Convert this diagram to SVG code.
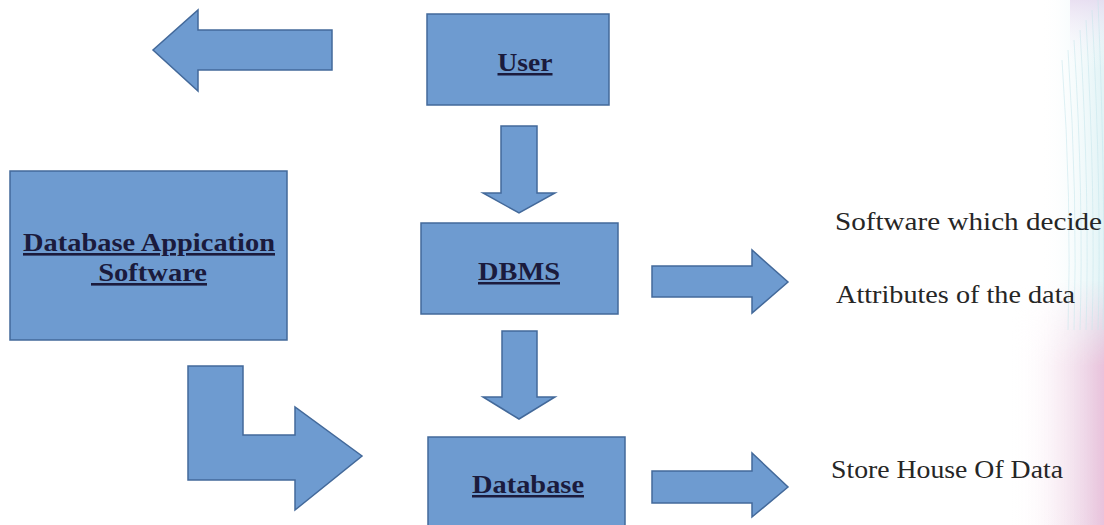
<svg xmlns="http://www.w3.org/2000/svg" width="1104" height="525" viewBox="0 0 1104 525">
  <defs>
    <style>
      .shape { fill: #6e9bd0; stroke: #43699a; stroke-width: 1.5; stroke-linejoin: miter; }
      .label { font-weight: bold; fill: #1b1b3d; text-decoration: underline; }
      .note { font-size: 26px; fill: #262626; }
    </style>
    <linearGradient id="edgeFade" x1="0" y1="0" x2="1" y2="0">
      <stop offset="0" stop-color="#ffffff" stop-opacity="0"/>
      <stop offset="1" stop-color="#d9f0f3" stop-opacity="0.8"/>
    </linearGradient>
    <linearGradient id="pinkFade" x1="0" y1="0" x2="1" y2="0">
      <stop offset="0" stop-color="#ffffff" stop-opacity="0"/>
      <stop offset="1" stop-color="#eab9d6" stop-opacity="0.85"/>
    </linearGradient>
    <linearGradient id="pinkV" x1="0" y1="0" x2="0" y2="1">
      <stop offset="0" stop-color="#ffffff" stop-opacity="0"/>
      <stop offset="0.35" stop-color="#ffffff" stop-opacity="1"/>
      <stop offset="1" stop-color="#ffffff" stop-opacity="1"/>
    </linearGradient>
    <mask id="pinkMask">
      <rect x="1000" y="280" width="104" height="245" fill="url(#pinkV)"/>
    </mask>
    <linearGradient id="lavFade" x1="0" y1="0" x2="0" y2="1">
      <stop offset="0" stop-color="#e6d9ef" stop-opacity="0.8"/>
      <stop offset="1" stop-color="#ffffff" stop-opacity="0"/>
    </linearGradient>
  </defs>

  <rect width="1104" height="525" fill="#ffffff"/>

  <!-- soft striped backdrop along the right edge -->
  <g id="backdrop">
    <rect x="1040" y="0" width="64" height="525" fill="url(#edgeFade)"/>
    <rect x="1070" y="0" width="34" height="70" fill="url(#lavFade)"/>
    <rect x="1010" y="280" width="94" height="245" fill="url(#pinkFade)" mask="url(#pinkMask)"/>
    <g stroke="#c7e6ec" stroke-width="0.8" fill="none" opacity="0.7">
      <path d="M1062 60 Q1072 200 1068 330"/>
      <path d="M1068 50 Q1078 200 1074 330"/>
      <path d="M1074 40 Q1084 200 1080 330"/>
      <path d="M1080 30 Q1090 200 1086 330"/>
      <path d="M1086 20 Q1096 200 1092 330"/>
      <path d="M1092 10 Q1102 200 1098 330"/>
      <path d="M1098 0 Q1106 200 1103 330"/>
    </g>
  </g>

  <g font-family="'Liberation Serif', 'Times New Roman', 'DejaVu Serif', serif">
    <!-- boxes -->
    <g id="user">
      <rect class="shape" x="427" y="14" width="182" height="91"/>
      <text class="label" x="525" y="71" font-size="25" text-anchor="middle" textLength="55" lengthAdjust="spacingAndGlyphs">User</text>
    </g>

    <g id="dbms">
      <rect class="shape" x="421" y="223" width="197" height="91"/>
      <text class="label" x="519" y="280" font-size="25" text-anchor="middle" textLength="82" lengthAdjust="spacingAndGlyphs">DBMS</text>
    </g>

    <g id="database">
      <rect class="shape" x="428" y="437" width="197" height="100"/>
      <text class="label" x="528" y="493" font-size="25" text-anchor="middle" textLength="112" lengthAdjust="spacingAndGlyphs">Database</text>
    </g>

    <g id="app-software">
      <rect class="shape" x="10" y="171" width="277" height="169"/>
      <text class="label" x="149" y="251" font-size="26" text-anchor="middle" textLength="252" lengthAdjust="spacingAndGlyphs">Database Appication</text>
      <text class="label" x="91" y="281" font-size="26" textLength="116" lengthAdjust="spacingAndGlyphs">&#160;Software</text>
    </g>

    <!-- connectors: block arrows -->
    <g id="connectors">
      <!-- left arrow beside User -->
      <path class="shape" d="M332 30 L198 30 L198 10 L153 50 L198 91 L198 70 L332 70 Z"/>
      <!-- User to DBMS -->
      <path class="shape" d="M501 126 L537 126 L537 193 L555 193 L519 213 L483 193 L501 193 Z"/>
      <!-- DBMS to Database -->
      <path class="shape" d="M502 331 L537 331 L537 397 L555 397 L519 419 L483 397 L502 397 Z"/>
      <!-- DBMS to its description -->
      <path class="shape" d="M652 266 L752 266 L752 250 L788 282 L752 313 L752 297 L652 297 Z"/>
      <!-- Database to its description -->
      <path class="shape" d="M652 471 L752 471 L752 453 L788 487 L752 517 L752 503 L652 503 Z"/>
      <!-- bent arrow from application software to Database -->
      <path class="shape" d="M188 366 L243 366 L243 435 L295 435 L295 407 L362 456 L295 510 L295 480 L188 480 Z"/>
    </g>

    <!-- descriptions -->
    <g id="descriptions">
      <text class="note" x="835" y="230" textLength="267" lengthAdjust="spacingAndGlyphs">Software which decide</text>
      <text class="note" x="836" y="303" textLength="239" lengthAdjust="spacingAndGlyphs">Attributes of the data</text>
      <text class="note" x="831" y="478" textLength="232" lengthAdjust="spacingAndGlyphs">Store House Of Data</text>
    </g>
  </g>
</svg>
